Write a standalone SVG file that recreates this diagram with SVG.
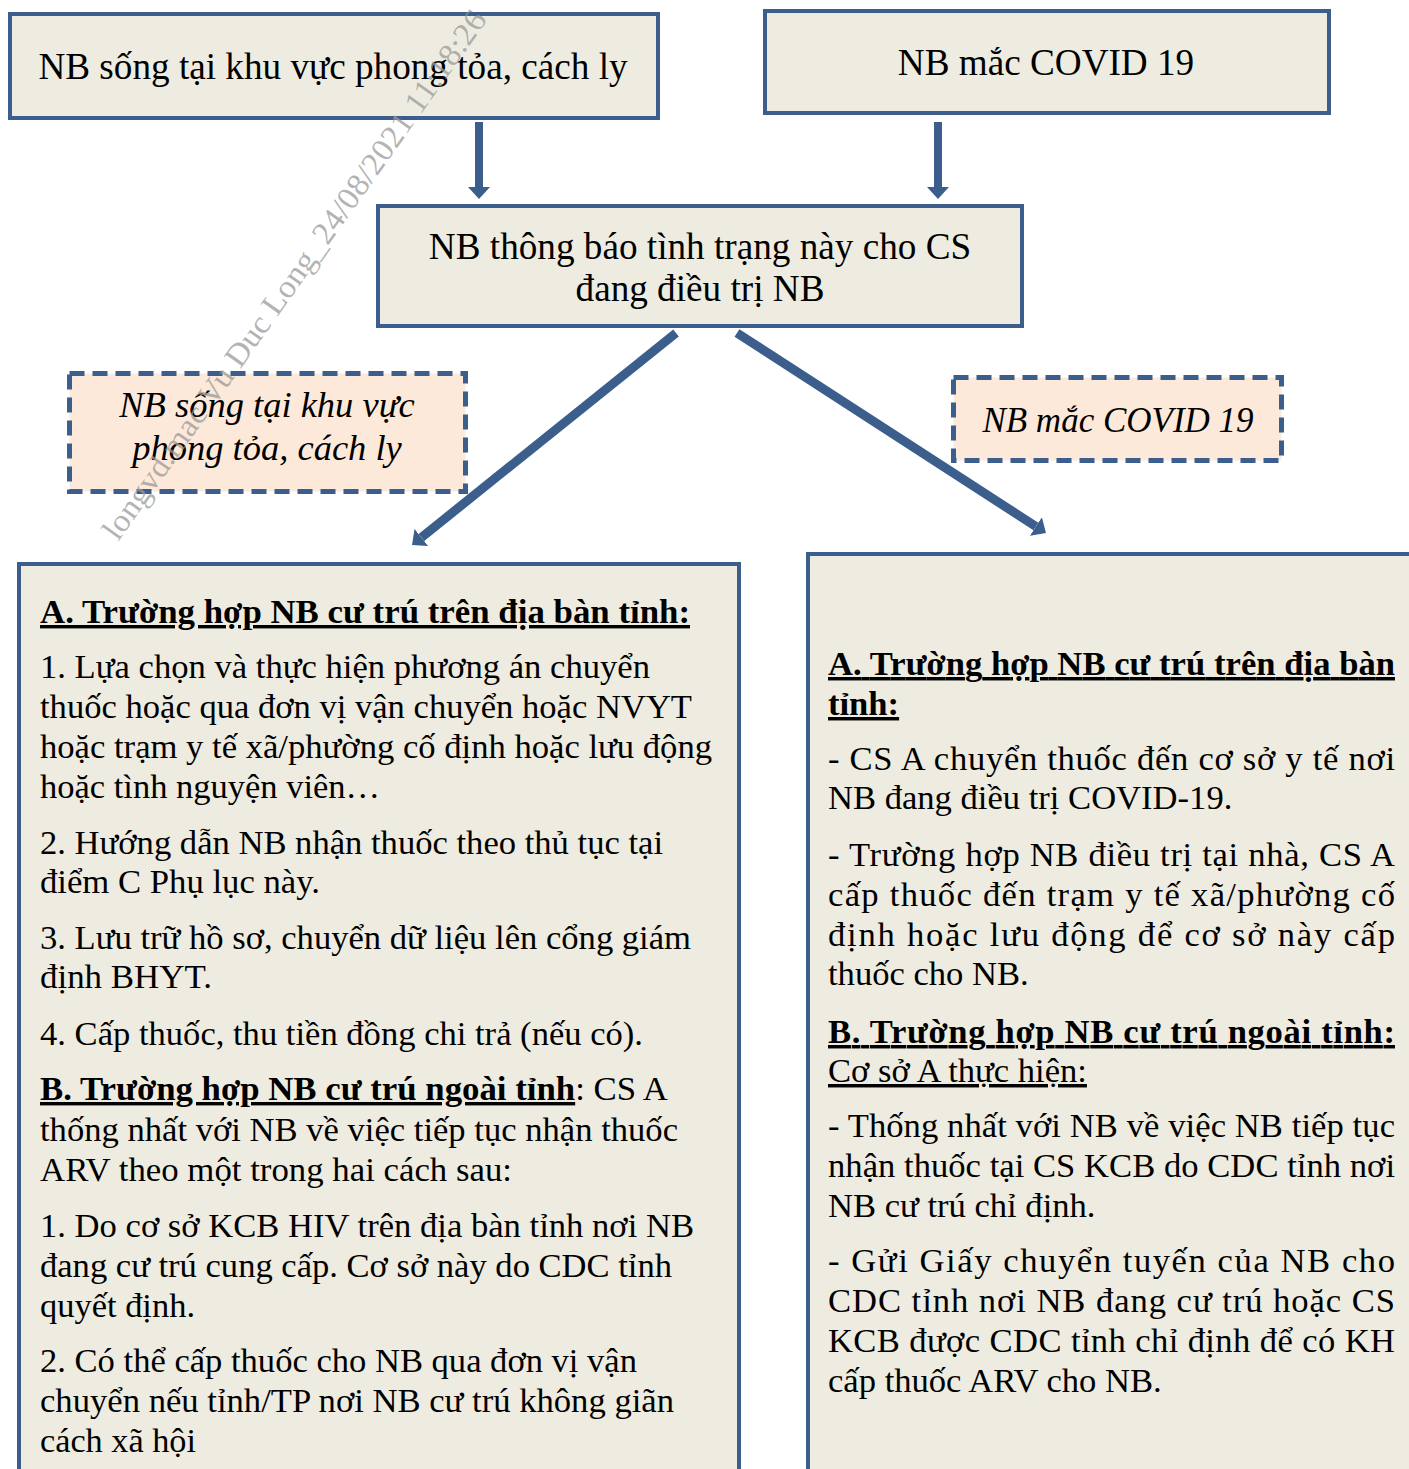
<svg xmlns="http://www.w3.org/2000/svg" width="1409" height="1469" viewBox="0 0 1409 1469">
<style>
.box{fill:#EEECE1;stroke:#3B5E8C;stroke-width:4}
.dash{fill:#FDE9D9;stroke:#3B5E8C;stroke-width:5;stroke-dasharray:15 8}
.t{font-family:"Liberation Serif","Times New Roman",serif;font-size:34px;fill:#000}
.r{font-size:34.6px}
.h{font-size:37.2px}
.i{font-style:italic;font-size:35px}
.i2{font-size:36.5px}
.b{font-weight:bold}
.u{text-decoration:underline}
.c{text-anchor:middle}
.conn{stroke:#3B5E8C;fill:none;stroke-linecap:butt}
.wm{font-family:"Liberation Serif","Times New Roman",serif;font-size:32px;fill:#9A9A9A;fill-opacity:0.75}
</style>
<defs>
<marker id="ah" markerUnits="userSpaceOnUse" viewBox="0 0 12 22" refX="0" refY="11" markerWidth="12" markerHeight="22" orient="auto">
<path d="M0,0 L12,11 L0,22 Z" fill="#3B5E8C"/>
</marker>
</defs>
<rect width="1409" height="1469" fill="#FFFFFF"/>

<g id="n1">
<rect class="box" x="10" y="14" width="648" height="104"/>
<text class="t h c" x="333" y="79">NB sống tại khu vực phong tỏa, cách ly</text>
</g>
<g id="n2">
<rect class="box" x="765" y="11" width="564" height="102"/>
<text class="t h c" x="1046" y="75">NB mắc COVID 19</text>
</g>
<g id="n3">
<rect class="box" x="378" y="206" width="644" height="120"/>
<text class="t h c" x="700" y="259">NB thông báo tình trạng này cho CS</text>
<text class="t h c" x="700" y="301">đang điều trị NB</text>
</g>
<g id="lbl1">
<rect class="dash" x="69.5" y="373.5" width="396" height="118"/>
<text class="t i i2 c" x="267" y="417">NB sống tại khu vực</text>
<text class="t i i2 c" x="267" y="460">phong tỏa, cách ly</text>
</g>
<g id="lbl2">
<rect class="dash" x="953.5" y="377.5" width="328" height="83"/>
<text class="t i c" x="1118" y="432">NB mắc COVID 19</text>
</g>
<g id="n4">
<rect class="box" x="19" y="564" width="720" height="930"/>
<text class="t b u" x="40" y="623" textLength="650" lengthAdjust="spacingAndGlyphs">A. Trường hợp NB cư trú trên địa bàn tỉnh:</text>
<text class="t" x="40" y="678" textLength="610" lengthAdjust="spacingAndGlyphs">1. Lựa chọn và thực hiện phương án chuyển</text>
<text class="t" x="40" y="718" textLength="652" lengthAdjust="spacingAndGlyphs">thuốc hoặc qua đơn vị vận chuyển hoặc NVYT</text>
<text class="t" x="40" y="758" textLength="672" lengthAdjust="spacingAndGlyphs">hoặc trạm y tế xã/phường cố định hoặc lưu động</text>
<text class="t" x="40" y="798" textLength="340" lengthAdjust="spacingAndGlyphs">hoặc tình nguyện viên…</text>
<text class="t" x="40" y="854" textLength="623" lengthAdjust="spacingAndGlyphs">2. Hướng dẫn NB nhận thuốc theo thủ tục tại</text>
<text class="t" x="40" y="893" textLength="280" lengthAdjust="spacingAndGlyphs">điểm C Phụ lục này.</text>
<text class="t" x="40" y="949" textLength="651" lengthAdjust="spacingAndGlyphs">3. Lưu trữ hồ sơ, chuyển dữ liệu lên cổng giám</text>
<text class="t" x="40" y="988" textLength="172" lengthAdjust="spacingAndGlyphs">định BHYT.</text>
<text class="t" x="40" y="1045" textLength="603" lengthAdjust="spacingAndGlyphs">4. Cấp thuốc, thu tiền đồng chi trả (nếu có).</text>
<text class="t" x="40" y="1100" textLength="628" lengthAdjust="spacingAndGlyphs"><tspan class="b u">B. Trường hợp NB cư trú ngoài tỉnh</tspan>: CS A</text>
<text class="t" x="40" y="1141" textLength="638" lengthAdjust="spacingAndGlyphs">thống nhất với NB về việc tiếp tục nhận thuốc</text>
<text class="t" x="40" y="1181" textLength="472" lengthAdjust="spacingAndGlyphs">ARV theo một trong hai cách sau:</text>
<text class="t" x="40" y="1237" textLength="654" lengthAdjust="spacingAndGlyphs">1. Do cơ sở KCB HIV trên địa bàn tỉnh nơi NB</text>
<text class="t" x="40" y="1277" textLength="632" lengthAdjust="spacingAndGlyphs">đang cư trú cung cấp. Cơ sở này do CDC tỉnh</text>
<text class="t" x="40" y="1317" textLength="155" lengthAdjust="spacingAndGlyphs">quyết định.</text>
<text class="t" x="40" y="1372" textLength="597" lengthAdjust="spacingAndGlyphs">2. Có thể cấp thuốc cho NB qua đơn vị vận</text>
<text class="t" x="40" y="1412" textLength="634" lengthAdjust="spacingAndGlyphs">chuyển nếu tỉnh/TP nơi NB cư trú không giãn</text>
<text class="t" x="40" y="1452" textLength="156" lengthAdjust="spacingAndGlyphs">cách xã hội</text>
</g>
<g id="n5">
<rect class="box" x="808" y="554" width="620" height="940"/>
<text class="t r b u" x="828" y="675" textLength="567" lengthAdjust="spacing">A. Trường hợp NB cư trú trên địa bàn</text>
<text class="t r b u" x="828" y="715">tỉnh:</text>
<text class="t r" x="828" y="770" textLength="567" lengthAdjust="spacing">- CS A chuyển thuốc đến cơ sở y tế nơi</text>
<text class="t r" x="828" y="809">NB đang điều trị COVID-19.</text>
<text class="t r" x="828" y="866" textLength="567" lengthAdjust="spacing">- Trường hợp NB điều trị tại nhà, CS A</text>
<text class="t r" x="828" y="906" textLength="567" lengthAdjust="spacing">cấp thuốc đến trạm y tế xã/phường cố</text>
<text class="t r" x="828" y="946" textLength="567" lengthAdjust="spacing">định hoặc lưu động để cơ sở này cấp</text>
<text class="t r" x="828" y="985">thuốc cho NB.</text>
<text class="t r b u" x="828" y="1043" textLength="567" lengthAdjust="spacing">B. Trường hợp NB cư trú ngoài tỉnh:</text>
<text class="t r u" x="828" y="1082">Cơ sở A thực hiện:</text>
<text class="t r" x="828" y="1137" textLength="567" lengthAdjust="spacing">- Thống nhất với NB về việc NB tiếp tục</text>
<text class="t r" x="828" y="1177" textLength="567" lengthAdjust="spacing">nhận thuốc tại CS KCB do CDC tỉnh nơi</text>
<text class="t r" x="828" y="1217">NB cư trú chỉ định.</text>
<text class="t r" x="828" y="1272" textLength="567" lengthAdjust="spacing">- Gửi Giấy chuyển tuyến của NB cho</text>
<text class="t r" x="828" y="1312" textLength="567" lengthAdjust="spacing">CDC tỉnh nơi NB đang cư trú hoặc CS</text>
<text class="t r" x="828" y="1352" textLength="567" lengthAdjust="spacing">KCB được CDC tỉnh chỉ định để có KH</text>
<text class="t r" x="828" y="1392">cấp thuốc ARV cho NB.</text>
</g>

<g id="connectors">
<line class="conn" x1="479" y1="122" x2="479" y2="187" stroke-width="8" marker-end="url(#ah)"/>
<line class="conn" x1="938" y1="122" x2="938" y2="187" stroke-width="8" marker-end="url(#ah)"/>
<line class="conn" x1="676" y1="333" x2="421.4" y2="537.5" stroke-width="9" marker-end="url(#ah)"/>
<line class="conn" x1="737" y1="333" x2="1035.9" y2="526.5" stroke-width="9" marker-end="url(#ah)"/>
</g>

<text class="wm" transform="translate(118,542) rotate(-54.7)" x="0" y="0" textLength="640" lengthAdjust="spacingAndGlyphs">longvd.mac Vu Duc Long_24/08/2021 11:18:26</text>
</svg>
